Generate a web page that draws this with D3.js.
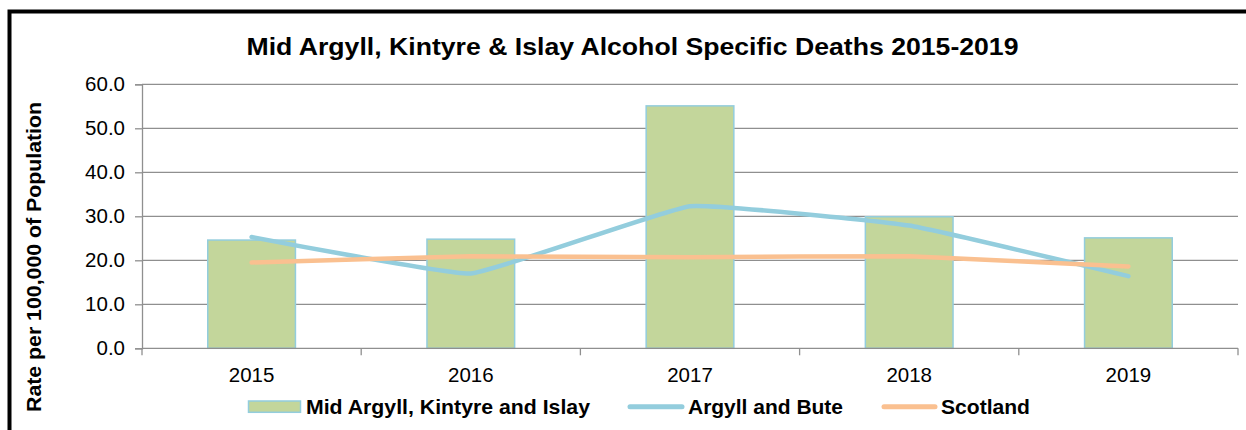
<!DOCTYPE html>
<html>
<head>
<meta charset="utf-8">
<script src="https://cdn.jsdelivr.net/npm/d3@7"></script>
<style>
  html, body { margin: 0; padding: 0; background: #fff; }
  svg { display: block; font-family: "Liberation Sans", Arial, sans-serif; }
</style>
</head>
<body>
<svg id="chart" width="1246" height="430"></svg>
<script>
const title = "Mid Argyll, Kintyre & Islay Alcohol Specific Deaths 2015-2019";
const yAxisTitle = "Rate per 100,000 of Population";
const categories = ["2015", "2016", "2017", "2018", "2019"];
const seriesNames = ["Mid Argyll, Kintyre and Islay", "Argyll and Bute", "Scotland"];
const midArgyll = [24.6, 24.8, 55.1, 29.9, 25.1];
const argyllBute = [25.3, 17.0, 32.3, 27.9, 16.4];
const scotland = [19.5, 20.9, 20.7, 20.9, 18.6];
const yTicks = [0, 10, 20, 30, 40, 50, 60];

const svg = d3.select("#chart");
const W = 1246, H = 430;
const plot = { left: 142, right: 1238, top: 84.3, bottom: 348.3 };

const barFill = "#C3D69B", barStroke = "#93CDDD";
const blueLine = "#93CDDD", orangeLine = "#FAC090";
const gridColor = "#8F8F8F";

svg.append("rect").attr("width", W).attr("height", H).attr("fill", "#fff");

// outer frame
svg.append("rect")
  .attr("x", 9.5).attr("y", 11.5).attr("width", 1400).attr("height", 600)
  .attr("fill", "none").attr("stroke", "#000").attr("stroke-width", 4);

const x = d3.scaleBand().domain(categories).range([plot.left, plot.right]).paddingInner(0).paddingOuter(0);
const y = d3.scaleLinear().domain([0, 60]).range([plot.bottom, plot.top]);

// gridlines
svg.append("g").selectAll("line").data(yTicks.filter(d => d > 0)).join("line")
  .attr("x1", plot.left).attr("x2", plot.right)
  .attr("y1", d => y(d)).attr("y2", d => y(d))
  .attr("stroke", gridColor).attr("stroke-width", 1.3);

// bars
const barW = x.bandwidth() * 0.4;
svg.append("g").selectAll("rect").data(midArgyll).join("rect")
  .attr("x", (d, i) => x(categories[i]) + (x.bandwidth() - barW) / 2)
  .attr("y", d => y(d))
  .attr("width", barW)
  .attr("height", d => y(0) - y(d))
  .attr("fill", barFill).attr("stroke", barStroke).attr("stroke-width", 1.5);

// y axis
const yAxis = d3.axisLeft(y).tickValues(yTicks).tickFormat(d3.format(".1f")).tickSize(7).tickPadding(10);
const gy = svg.append("g").attr("transform", `translate(${plot.left},0)`).call(yAxis);
gy.select(".domain").attr("stroke", gridColor).attr("stroke-width", 1.3);
gy.selectAll(".tick line").attr("stroke", gridColor).attr("stroke-width", 1.3);
gy.selectAll(".tick text").attr("font-size", 20.5).attr("fill", "#000")
  .attr("font-family", "'Liberation Sans', Arial, sans-serif");

// x axis
const xTickScale = d3.scaleLinear().domain([0, categories.length]).range([plot.left, plot.right]);
const gx = svg.append("g");
gx.append("line").attr("x1", plot.left).attr("x2", plot.right)
  .attr("y1", y(0)).attr("y2", y(0)).attr("stroke", gridColor).attr("stroke-width", 1.3);
gx.selectAll("line.tk").data(d3.range(categories.length + 1)).join("line").attr("class", "tk")
  .attr("x1", d => xTickScale(d)).attr("x2", d => xTickScale(d))
  .attr("y1", y(0)).attr("y2", y(0) + 7)
  .attr("stroke", gridColor).attr("stroke-width", 1.3);
gx.selectAll("text").data(categories).join("text")
  .attr("x", d => x(d) + x.bandwidth() / 2).attr("y", 382)
  .attr("text-anchor", "middle").attr("font-size", 20.5).attr("fill", "#000")
  .text(d => d);

// lines
const lineGen = d3.line()
  .x((d, i) => x(categories[i]) + x.bandwidth() / 2)
  .y(d => y(d))
  .curve(d3.curveCardinal.tension(0.7));

svg.append("path").datum(argyllBute).attr("d", lineGen)
  .attr("fill", "none").attr("stroke", blueLine).attr("stroke-width", 4.5)
  .attr("stroke-linecap", "round").attr("stroke-linejoin", "round");
svg.append("path").datum(scotland).attr("d", lineGen)
  .attr("fill", "none").attr("stroke", orangeLine).attr("stroke-width", 4.5)
  .attr("stroke-linecap", "round").attr("stroke-linejoin", "round");

// title
svg.append("text").attr("x", 246.5).attr("y", 55)
  .attr("font-size", 23.5).attr("font-weight", "bold").attr("fill", "#000")
  .attr("textLength", 772).attr("lengthAdjust", "spacingAndGlyphs").text(title);

// y axis title
svg.append("text")
  .attr("transform", `translate(41,412) rotate(-90)`)
  .attr("font-size", 20.5).attr("font-weight", "bold")
  .attr("textLength", 310).attr("lengthAdjust", "spacingAndGlyphs")
  .attr("fill", "#000").text(yAxisTitle);

// legend
const lg = svg.append("g");
const legendY = 406.7;
lg.append("rect").attr("x", 248.5).attr("y", 401).attr("width", 52).attr("height", 11.3)
  .attr("fill", barFill).attr("stroke", barStroke).attr("stroke-width", 1.5);
lg.append("text").attr("x", 306).attr("y", legendY + 7.5).attr("font-size", 20.5)
  .attr("font-weight", "bold").attr("fill", "#000")
  .attr("textLength", 284).attr("lengthAdjust", "spacingAndGlyphs").text(seriesNames[0]);
lg.append("line").attr("x1", 630).attr("x2", 682).attr("y1", legendY).attr("y2", legendY)
  .attr("stroke", blueLine).attr("stroke-width", 5).attr("stroke-linecap", "round");
lg.append("text").attr("x", 688).attr("y", legendY + 7.5).attr("font-size", 20.5)
  .attr("font-weight", "bold").attr("fill", "#000")
  .attr("textLength", 155).attr("lengthAdjust", "spacingAndGlyphs").text(seriesNames[1]);
lg.append("line").attr("x1", 884).attr("x2", 935).attr("y1", legendY).attr("y2", legendY)
  .attr("stroke", orangeLine).attr("stroke-width", 5).attr("stroke-linecap", "round");
lg.append("text").attr("x", 941).attr("y", legendY + 7.5).attr("font-size", 20.5)
  .attr("font-weight", "bold").attr("fill", "#000")
  .attr("textLength", 89).attr("lengthAdjust", "spacingAndGlyphs").text(seriesNames[2]);
</script>
</body>
</html>
